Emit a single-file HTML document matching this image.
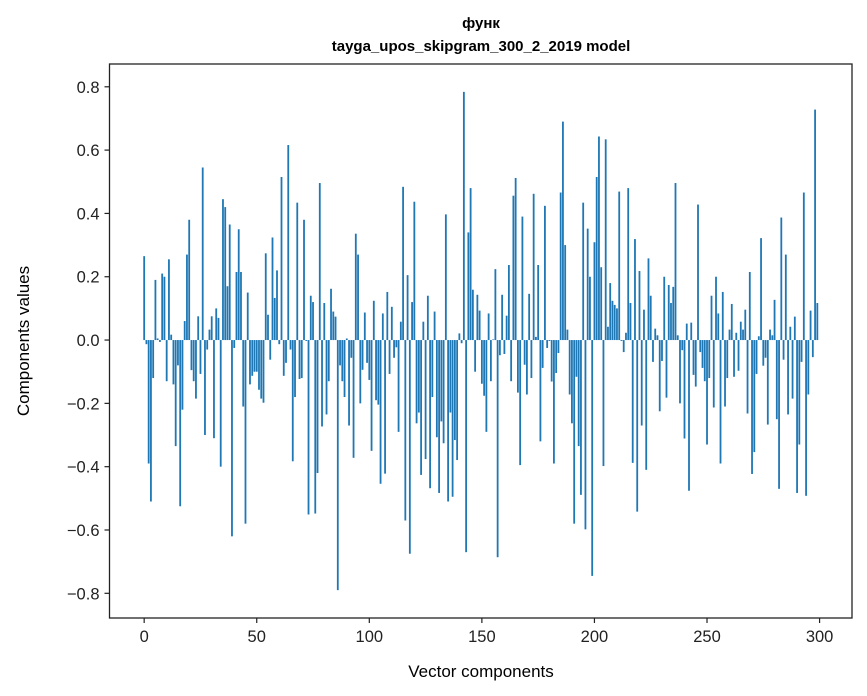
<!DOCTYPE html>
<html><head><meta charset="utf-8"><style>
html,body{margin:0;padding:0;background:#fff;}
svg{display:block;font-family:"Liberation Sans","DejaVu Sans",sans-serif;}
</style></head><body>
<svg id="chart" width="867" height="696" viewBox="0 0 867 696" xmlns="http://www.w3.org/2000/svg">
<rect width="867" height="696" fill="#fff"/>
<text x="481" y="28" text-anchor="middle" font-size="15" font-weight="bold" fill="#000">функ</text>
<text x="481" y="51" text-anchor="middle" font-size="15" font-weight="bold" fill="#000">tayga_upos_skipgram_300_2_2019 model</text>
<g id="bars"></g>
<g id="axes"></g>
<text x="481" y="677" text-anchor="middle" font-size="17" fill="#000">Vector components</text>
<text transform="translate(29,341) rotate(-90)" text-anchor="middle" font-size="17" fill="#000">Components values</text>
</svg>
<script>
const values = [
0.265,-0.013,-0.39,-0.51,-0.12,0.19,0.005,-0.006,0.21,0.2,
-0.13,0.255,0.017,-0.14,-0.335,-0.08,-0.525,-0.22,0.06,0.27,
0.38,-0.095,-0.13,-0.185,0.075,-0.107,0.545,-0.3,-0.03,0.033,
0.075,-0.31,0.1,0.07,-0.4,0.445,0.42,0.17,0.365,-0.62,
-0.025,0.215,0.35,0.215,-0.21,-0.58,0.15,-0.14,-0.113,-0.1,
-0.1,-0.157,-0.185,-0.198,0.274,0.08,-0.062,0.324,0.133,0.22,
-0.013,0.515,-0.113,-0.072,0.616,-0.03,-0.383,-0.18,0.434,-0.123,
-0.12,0.38,-0.003,-0.551,0.14,0.12,-0.548,-0.42,0.496,-0.273,
0.117,-0.235,-0.13,0.162,0.09,0.074,-0.79,-0.08,-0.13,-0.18,
0.005,-0.27,-0.056,-0.372,0.336,0.27,-0.2,-0.094,0.087,-0.072,
-0.126,-0.35,0.124,-0.19,-0.204,-0.454,0.084,-0.422,0.152,-0.107,
0.105,-0.056,-0.023,-0.29,0.058,0.484,-0.57,0.205,-0.675,0.12,
0.437,-0.263,-0.229,-0.426,0.058,-0.376,0.14,-0.468,-0.18,0.09,
-0.307,-0.483,-0.257,-0.326,0.397,-0.51,-0.229,-0.495,-0.316,-0.379,
0.021,-0.01,0.784,-0.67,0.34,0.48,0.159,-0.1,0.143,0.093,
-0.138,-0.176,-0.29,0.084,-0.13,0.002,0.224,-0.686,-0.048,0.143,
-0.044,0.077,0.237,-0.13,0.456,0.512,-0.166,-0.395,0.39,-0.078,
-0.172,0.146,-0.12,0.462,0.01,0.237,-0.32,-0.088,0.424,-0.025,
-0.003,-0.131,-0.39,-0.104,-0.041,0.466,0.69,0.3,0.033,-0.172,
-0.263,-0.58,-0.116,-0.335,-0.489,0.434,-0.598,0.352,0.2,-0.745,
0.309,0.515,0.643,0.23,-0.398,0.634,0.042,0.18,0.124,0.111,
0.1,0.469,-0.003,-0.038,0.023,0.48,0.117,-0.388,0.319,-0.542,
0.218,-0.27,0.096,-0.41,0.258,0.14,-0.069,0.036,0.015,-0.225,
-0.066,0.2,-0.182,0.174,0.117,0.168,0.496,0.015,-0.2,-0.032,
-0.311,0.052,-0.476,0.055,-0.11,-0.147,0.428,-0.038,-0.088,-0.13,
-0.33,-0.12,0.14,-0.213,0.2,0.084,-0.39,0.152,-0.21,-0.12,
0.033,0.114,-0.116,0.023,-0.097,0.058,0.033,0.096,-0.232,0.215,
-0.423,-0.354,-0.107,0.012,0.322,-0.081,-0.056,-0.267,0.033,0.015,
0.127,-0.25,-0.47,0.387,-0.062,0.27,-0.235,0.042,-0.185,0.074,
-0.483,-0.33,-0.069,0.466,-0.492,-0.172,0.093,-0.054,0.728,0.117
];
const xTicks = [0,50,100,150,200,250,300];
const yTicks = [-0.8,-0.6,-0.4,-0.2,0.0,0.2,0.4,0.6,0.8];
const yTickLabels = ["\u22120.8","\u22120.6","\u22120.4","\u22120.2","0.0","0.2","0.4","0.6","0.8"];

const NS = "http://www.w3.org/2000/svg";
const L = 109.5, R = 852, T = 64, B = 618;
const xMin = -15.4, xMax = 314.4, yMin = -0.878, yMax = 0.872;
const xs = v => L + (v - xMin) / (xMax - xMin) * (R - L);
const ys = v => B - (v - yMin) / (yMax - yMin) * (B - T);
function mk(tag, attrs, parent){const e=document.createElementNS(NS,tag);for(const k in attrs)e.setAttribute(k,attrs[k]);parent.appendChild(e);return e;}

const bars = document.getElementById('bars');
values.forEach((v, i) => {
  const x0 = xs(i - 0.4), x1 = xs(i + 0.4);
  const y0 = ys(Math.max(v, 0)), y1 = ys(Math.min(v, 0));
  const r = mk('rect', {x: x0, y: y0, width: x1 - x0, height: Math.max(y1 - y0, 0.01), fill: '#1f77b4'}, bars);
  
  
});

const axes = document.getElementById('axes');
const frame = mk('rect', {x: L, y: T, width: R - L, height: B - T, fill: 'none', stroke: '#222', 'stroke-width': 1.3}, axes);


xTicks.forEach(t => {
  const x = xs(t);
  const tk = mk('line', {x1: x, x2: x, y1: B, y2: B + 5, stroke: '#222', 'stroke-width': 1.2}, axes);
  
  
  const tx = mk('text', {x: x, y: B + 24, 'text-anchor': 'middle', 'font-size': 16.5, fill: '#222'}, axes);
  tx.textContent = t;
  
  
});
yTicks.forEach((t, i) => {
  const y = ys(t);
  const tk = mk('line', {x1: L - 5, x2: L, y1: y, y2: y, stroke: '#222', 'stroke-width': 1.2}, axes);
  
  
  const tx = mk('text', {x: L - 10, y: y + 6, 'text-anchor': 'end', 'font-size': 16.5, fill: '#222'}, axes);
  tx.textContent = yTickLabels[i];
  
  
});
</script>
</body></html>
